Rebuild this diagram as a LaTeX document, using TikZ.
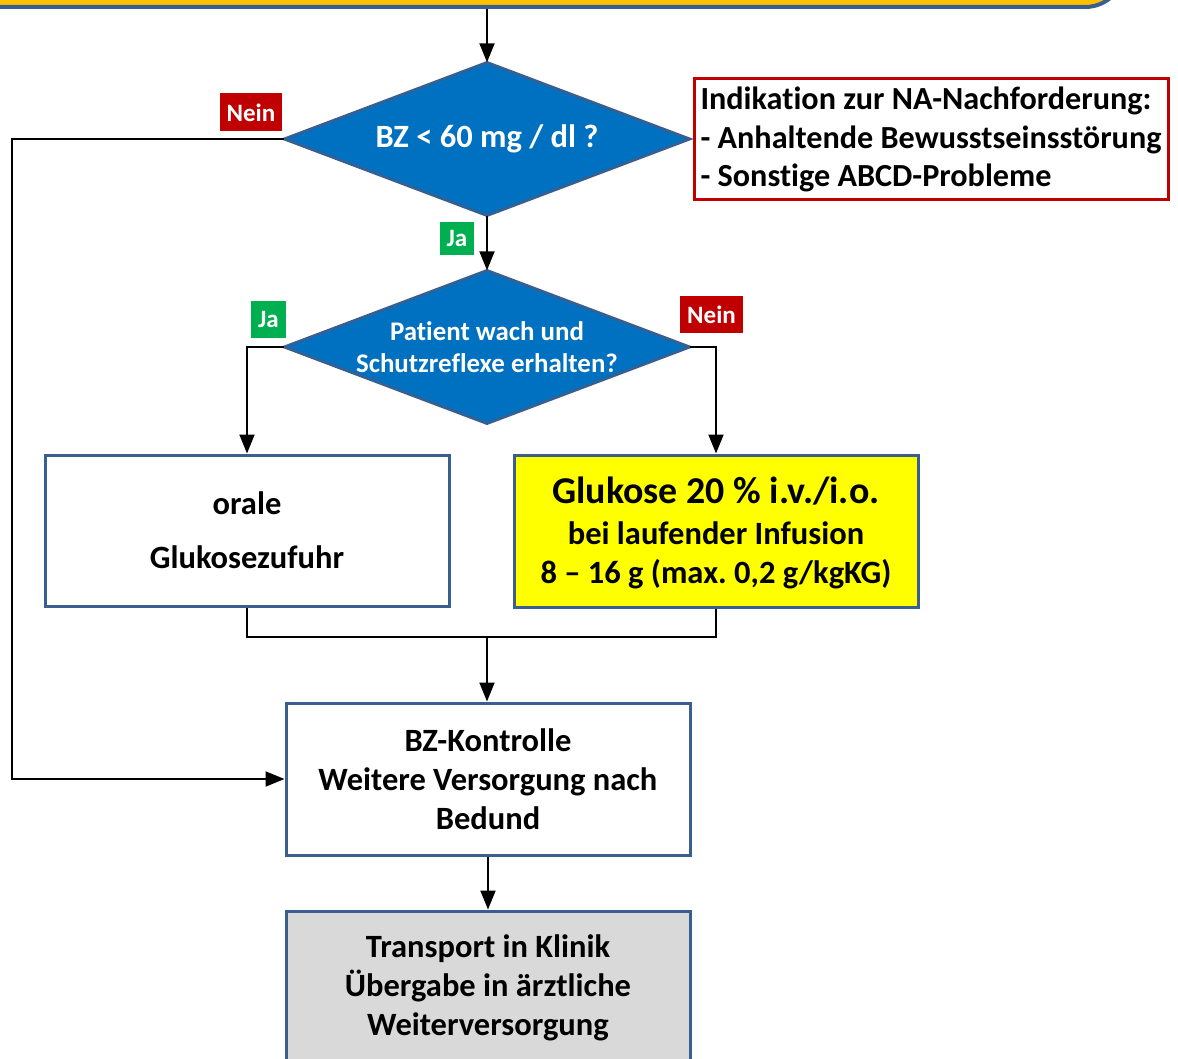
\documentclass[tikz,border=0pt]{standalone}
\usepackage{fontspec}
\setmainfont{Carlito}[Ligatures=NoCommon]
\usetikzlibrary{arrows.meta,backgrounds}
\frenchspacing

\definecolor{edgeblue}{HTML}{3A5F8E}
\definecolor{dblue}{HTML}{0070C0}
\definecolor{topyellow}{HTML}{FFC000}
\definecolor{alertred}{HTML}{C00000}
\definecolor{okgreen}{HTML}{00B050}
\definecolor{boxgray}{HTML}{D9D9D9}
\definecolor{hiyellow}{HTML}{FFFF00}

\newcommand\mainfs{\fontsize{32.5}{39}\selectfont\bfseries}
\newcommand\notefs{\fontsize{32.2}{38.5}\selectfont\bfseries}
\newcommand\smallfs{\fontsize{26.9}{32}\selectfont\bfseries}
\newcommand\labfs{\fontsize{25}{28}\selectfont\bfseries}

\begin{document}
\begin{tikzpicture}[x=1pt,y=-1pt,
  box/.style={draw=edgeblue, line width=3pt, minimum width=404pt,
    minimum height=151pt, inner sep=0pt, align=center, font=\mainfs},
  decision/.style={minimum width=406pt, minimum height=153pt, inner sep=0pt,
    text=white, align=center},
  diamondfill/.style={draw=edgeblue, fill=dblue, line width=2.5pt, line join=miter},
  tag/.style={inner sep=0pt, text=white, font=\labfs, minimum height=38pt},
  nein/.style={tag, fill=alertred, minimum width=62pt},
  ja/.style={tag, fill=okgreen, minimum width=34pt},
  conn/.style={line width=2pt, draw=black},
  arr/.style={conn, -{Triangle[length=19pt,width=15pt]}}
]
\useasboundingbox (0,0) rectangle (1178,1059);

% header box, mostly above the page
\node[draw=edgeblue, fill=topyellow, line width=4pt, rounded corners=40pt,
  minimum width=1165pt, minimum height=87pt, inner sep=0pt] (top) at (542.5,-36.5) {};

% decisions: text nodes, the rhombus is drawn behind them
\node[decision, font=\mainfs] (d1) at (487,139) {BZ < 60 mg / dl ?};
\node[decision, font=\smallfs] (d2) at (487,347) {Patient wach und\\Schutzreflexe erhalten?};
\begin{pgfonlayer}{background}
  \foreach \d in {d1,d2}
    \draw[diamondfill] (\d.west) -- (\d.north) -- (\d.east) -- (\d.south) -- cycle;
\end{pgfonlayer}

% indication note
\node[draw=alertred, line width=3pt, minimum width=474pt, minimum height=121pt,
  inner sep=0pt, align=left, font=\notefs]
  (note) at (931,139.5)
  {Indikation zur NA-Nachforderung:\\- Anhaltende Bewusstseinsstörung\\- Sonstige ABCD-Probleme};

% treatment boxes
\node[box, fill=white] (oral) at (247,530.5) {orale\\[15pt]Glukosezufuhr};
\node[box, fill=hiyellow, minimum height=152pt] (gluc) at (716,531)
  {{\fontsize{37.9}{41}\selectfont Glukose 20 \% i.v./i.o.}\\[1.5pt]bei laufender Infusion\\8 – 16 g (max. 0,2 g/kgKG)\\[-37pt]\mbox{}};
\node[box, fill=white, minimum height=152pt] (bz) at (488,779)
  {BZ-Kontrolle\\Weitere Versorgung nach\\Bedund};
\node[box, fill=boxgray, minimum height=154pt] (trans) at (488,988)
  {Transport in Klinik\\Übergabe in ärztliche\\Weiterversorgung};

% branch labels
\node[nein] (n1) at (251,112.5) {Nein};
\node[ja, minimum height=33pt] (j1) at (457,238.5) {Ja};
\node[ja, minimum width=35pt, minimum height=37pt] (j2) at (268.5,319.5) {Ja};
\node[nein, minimum width=63pt, minimum height=37pt] (n2) at (711.5,314.5) {Nein};

% routing points
\coordinate (lft) at (12,139);
\coordinate (join) at (487,637);

% connectors
\draw[arr] (d1.north |- top.south) -- (d1.north);
\draw[arr] (d1.south) -- (d2.north);
\draw[arr] (d1.west) -- (lft) |- (bz.west);
\draw[arr] (d2.west) -| (oral.north);
\draw[arr] (d2.east) -| (gluc.north);
\draw[conn] (oral.south) |- (join) -| (gluc.south);
\draw[arr] (join) -- (join |- bz.north);
\draw[arr] (bz.south) -- (trans.north);
\end{tikzpicture}
\end{document}
